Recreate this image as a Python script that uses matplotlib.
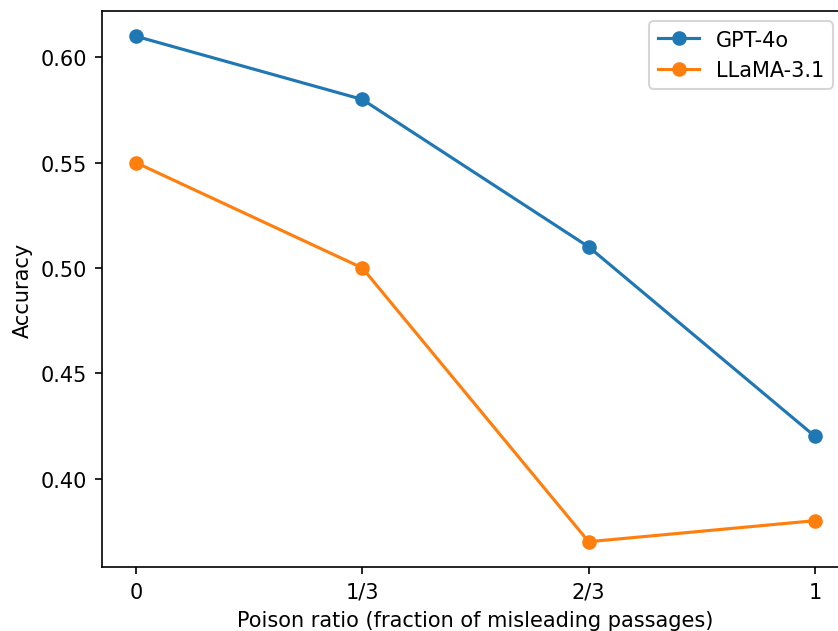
import numpy as np
import matplotlib.pyplot as plt

# poison ratio categories
ratios = ["0", "1/3", "2/3", "1"]
gpt4o = [0.61, 0.58, 0.51, 0.42]
llama = [0.55, 0.50, 0.37, 0.38]

x = np.arange(len(ratios))

dpi = 150
fig = plt.figure(figsize=(838 / dpi, 632 / dpi), dpi=dpi)
# the reference is cropped on the right, so the axes run past the edge
ax = fig.add_axes([102 / 838, 1 - 568 / 632, (849 - 102) / 838, (568 - 12) / 632])
ax.plot(x, gpt4o, 'o-', label='GPT-4o')
ax.plot(x, llama, 'o-', label='LLaMA-3.1')
ax.set_xticks(x)
ax.set_xticklabels(ratios)
ax.set_xlabel('Poison ratio (fraction of misleading passages)')
ax.set_ylabel('Accuracy')
ax.legend(loc='upper right', bbox_to_anchor=(0.992, 1))
fig.savefig('out.png', dpi=dpi)
